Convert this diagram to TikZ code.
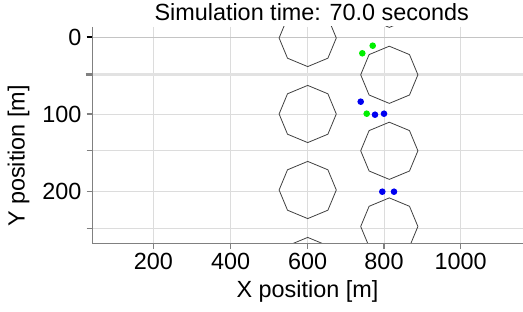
\documentclass[tikz,border=0pt]{standalone}
\usepackage{fontspec}
\setmainfont{Liberation Sans}
\definecolor{gridc}{HTML}{DCDCDC}
\definecolor{gridz}{HTML}{C4C4C4}
\definecolor{gridh}{HTML}{E2E2E2}
\definecolor{axisc}{HTML}{808080}
\definecolor{octc}{HTML}{404040}
\definecolor{dotg}{HTML}{00F000}
\definecolor{dotb}{HTML}{0000F0}
\newcommand{\myoct}[2]{\draw[octline] (#1+28.6,#2) -- (#1+20.2,#2+20.2) -- (#1,#2+28.6) -- (#1-20.2,#2+20.2) -- (#1-28.6,#2) -- (#1-20.2,#2-20.2) -- (#1,#2-28.6) -- (#1+20.2,#2-20.2) -- cycle;}
\begin{document}
\begin{tikzpicture}[x=1pt,y=-1pt,
  bigfont/.style={font=\fontsize{23.4}{28}\selectfont},
  gridline/.style={draw=gridc,line width=0.9pt},
  axisline/.style={draw=axisc,line width=1.3pt},
  tickline/.style={draw=axisc,line width=1.1pt},
  octline/.style={draw=octc,line width=0.8pt},
  gdot/.style={fill=dotg},
  bdot/.style={fill=dotb},
  ticklab/.style={bigfont,inner sep=0pt}]
\useasboundingbox (0,0) rectangle (523,312);
% grid
\foreach \gx in {153.3,230.7,307.7,384,460.7}{
  \draw[gridline] (\gx,27) -- (\gx,243.3);
  \draw[tickline] (\gx,243.3) -- (\gx,249);
}
\foreach \gy in {114,150.5,191.5,228.5}{
  \draw[gridline] (92.3,\gy) -- (523,\gy);
  \draw[tickline] (86.5,\gy) -- (92.3,\gy);
}
\draw[gridz,line width=0.9pt] (92.3,37) -- (523,37);
\draw[black,line width=1.1pt] (86.5,37) -- (92.3,37);
\draw[gridh,line width=2.2pt] (92.3,74.5) -- (523,74.5);
\draw[axisc,line width=2.2pt] (85.5,74.5) -- (92.3,74.5);
% obstacles
\begin{scope}
\clip (92.3,27) rectangle (523,243.3);
\myoct{307.7}{38}
\myoct{307.7}{114}
\myoct{307.7}{190}
\myoct{307.7}{266}
\myoct{389.3}{-1.2}
\myoct{389.3}{74.8}
\myoct{389.3}{150.8}
\myoct{389.3}{226.5}
\end{scope}
% agents
\fill[gdot] (372.7,45.7) circle (3.3);
\fill[gdot] (362.3,53.3) circle (3.3);
\fill[bdot] (360.7,101.7) circle (3.3);
\fill[gdot] (366.7,113.7) circle (3.3);
\fill[bdot] (375,114.7) circle (3.3);
\fill[bdot] (384,113.7) circle (3.3);
\fill[bdot] (382.3,191.7) circle (3.3);
\fill[bdot] (394,191.7) circle (3.3);
% axes
\draw[axisline] (92.3,27) -- (92.3,243.3) -- (523,243.3);
% labels
\node[ticklab,anchor=base] (t) at (311.7,20.3) {Simulation time: 70.0 seconds};
\node[ticklab,anchor=base] (xl) at (307.5,297.7) {X position [m]};
\node[ticklab,anchor=base,rotate=90] (yl) at (24.5,156) {Y position [m]};
\node[ticklab,anchor=base] (x200) at (153.3,269.3) {200};
\node[ticklab,anchor=base] (x400) at (230.7,269.3) {400};
\node[ticklab,anchor=base] (x600) at (307.7,269.3) {600};
\node[ticklab,anchor=base] (x800) at (384,269.3) {800};
\node[ticklab,anchor=base] (x1000) at (460.7,269.3) {1000};
\node[ticklab,anchor=east] (y0) at (81.7,37) {0};
\node[ticklab,anchor=east] (y100) at (81.7,114) {100};
\node[ticklab,anchor=east] (y200) at (81.7,191.5) {200};
\end{tikzpicture}
\end{document}
